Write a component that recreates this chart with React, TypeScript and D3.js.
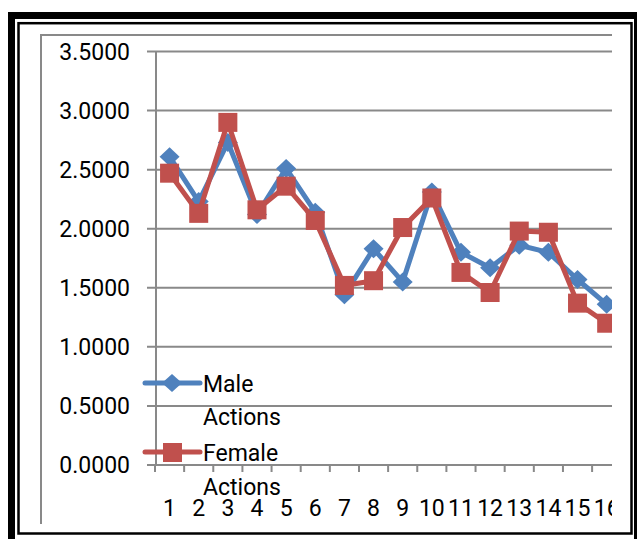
import React from "react";
import * as d3 from "d3";

const categories = ["1","2","3","4","5","6","7","8","9","10","11","12","13","14","15","16"];
const maleActions = [2.61, 2.23, 2.73, 2.12, 2.51, 2.14, 1.44, 1.83, 1.55, 2.31, 1.80, 1.67, 1.86, 1.80, 1.57, 1.36];
const femaleActions = [2.47, 2.13, 2.90, 2.16, 2.36, 2.07, 1.52, 1.56, 2.01, 2.26, 1.63, 1.46, 1.98, 1.97, 1.37, 1.20];
const yTicks = [0, 0.5, 1, 1.5, 2, 2.5, 3, 3.5];

const BLUE = "#4F81BD";
const RED = "#C0504D";
const GRID = "#898989";
const FONT = "Roboto, 'Open Sans', sans-serif";

export default function App() {
  const x0 = 155;
  const step = 29.14;
  const x = d3.scaleBand<string>().domain(categories).range([x0, x0 + step * categories.length]).padding(0);
  const y = d3.scaleLinear().domain([0, 3.5]).range([465, 51.5]);
  const cx = (c: string) => (x(c) as number) + x.bandwidth() / 2;

  const line = d3.line<number>().x((_, i) => cx(categories[i])).y((v) => y(v));

  const diamond = (px: number, py: number, w = 10, h = 9.5) =>
    `M${px},${py - h}L${px + w},${py}L${px},${py + h}L${px - w},${py}Z`;

  const boundaries = d3.range(categories.length + 1).map((k) => x0 + k * step);

  return (
    <svg width={637} height={539} style={{ position: "absolute", left: 0, top: 0, background: "#fff" }} fontFamily={FONT}>
      <defs>
        <clipPath id="chartclip">
          <rect x={0} y={0} width={612} height={524} />
        </clipPath>
      </defs>
      <rect x={0} y={0} width={637} height={539} fill="#fff" />
      <g clipPath="url(#chartclip)">
        {/* chart area border */}
        <line x1={41} y1={35} x2={640} y2={35} stroke={GRID} strokeWidth={2} />
        <line x1={41} y1={34} x2={41} y2={524} stroke={GRID} strokeWidth={2} />
        {/* gridlines */}
        {yTicks.map((t) => (
          <line key={t} x1={147} x2={640} y1={y(t)} y2={y(t)} stroke={GRID} strokeWidth={2} />
        ))}
        {/* y axis */}
        <line x1={156} x2={156} y1={y(3.5)} y2={y(0)} stroke={GRID} strokeWidth={2} />
        {/* x ticks */}
        {boundaries.map((bx, i) => (
          <line key={i} x1={bx} x2={bx} y1={y(0)} y2={472} stroke={GRID} strokeWidth={2} />
        ))}
        {/* y labels */}
        {yTicks.map((t) => (
          <text key={t} x={130} y={y(t)} dy="0.35em" textAnchor="end" fontSize={23} fill="#000">
            {t.toFixed(4)}
          </text>
        ))}
        {/* x labels */}
        {categories.map((c) => (
          <text key={c} x={cx(c)} y={516} textAnchor="middle" fontSize={23} fill="#000">
            {c}
          </text>
        ))}
        {/* series lines */}
        <path d={line(maleActions) || ""} fill="none" stroke={BLUE} strokeWidth={5} strokeLinejoin="round" />
        {maleActions.map((v, i) => (
          <path key={i} d={diamond(cx(categories[i]), y(v))} fill={BLUE} />
        ))}
        <path d={line(femaleActions) || ""} fill="none" stroke={RED} strokeWidth={5} strokeLinejoin="round" />
        {femaleActions.map((v, i) => (
          <rect key={i} x={cx(categories[i]) - 9.5} y={y(v) - 9.5} width={19} height={19} fill={RED} />
        ))}
        {/* legend */}
        <line x1={145} x2={200} y1={383} y2={383} stroke={BLUE} strokeWidth={5} strokeLinecap="round" />
        <path d={diamond(172, 383, 10, 9)} fill={BLUE} />
        <text x={203} y={392} fontSize={23} fill="#000">Male</text>
        <text x={203} y={425} fontSize={23} fill="#000">Actions</text>
        <line x1={145} x2={200} y1={452} y2={452} stroke={RED} strokeWidth={5} strokeLinecap="round" />
        <rect x={163} y={443} width={19} height={19} fill={RED} />
        <text x={203} y={461} fontSize={23} fill="#000">Female</text>
        <text x={203} y={495} fontSize={23} fill="#000">Actions</text>
      </g>
      {/* frames */}
      <rect x={11.5} y={15.5} width={626} height={530} fill="none" stroke="#000" strokeWidth={7} />
      <rect x={18.5} y={23.2} width={613} height={510.3} fill="none" stroke="#000" strokeWidth={2.5} />
    </svg>
  );
}
